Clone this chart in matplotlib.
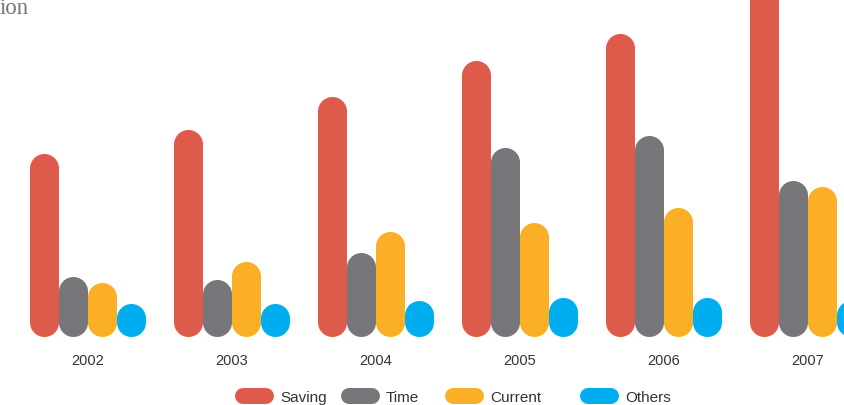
import numpy as np
import matplotlib.pyplot as plt
from matplotlib.lines import Line2D
from matplotlib.patches import Polygon

# data
years   = ["2002", "2003", "2004", "2005", "2006", "2007"]
series  = ["Saving", "Time", "Current", "Others"]
saving  = [61, 69, 80, 92, 101, 122]
time_   = [20, 19, 28, 63, 67, 52]
current = [18, 25, 35, 38, 43, 50]
others  = [11, 11, 12, 13, 13, 12]
colors  = ["#DE5A4B", "#77777B", "#FBAF26", "#00AEEF"]

W, H, DPI = 845, 406, 100
fig = plt.figure(figsize=(W / DPI, H / DPI), dpi=DPI)
ax = fig.add_axes([0, 0, 1, 1])
ax.set_axis_off()

px_x = 144.0   # pixels per group
px_y = 3.0     # pixels per value unit
x0_px, base_px = 88, 338
ax.set_xlim(-x0_px / px_x, (W - x0_px) / px_x)
ax.set_ylim(-(H - base_px) / px_y, base_px / px_y)

bw = 29 / px_x             # bar width (x units)
rx = bw / 2                # cap radius in x units
ry = 14.5 / px_y           # same radius in y units


def pill(xc, v):
    t = np.linspace(0, np.pi, 40)
    top = np.column_stack([xc + rx * np.cos(t), v - ry + ry * np.sin(t)])
    bot = np.column_stack([xc - rx * np.cos(t), ry - ry * np.sin(t)])
    return np.vstack([top, bot])


offsets = [-1.5, -0.5, 0.5, 1.5]
for vals, c, off in zip([saving, time_, current, others], colors, offsets):
    for i, v in enumerate(vals):
        ax.add_patch(Polygon(pill(i + off * bw, v), closed=True, fc=c, lw=0,
                             clip_on=False))

for i, y in enumerate(years):
    ax.text(i, -23 / px_y, y, ha="center", va="center", fontsize=10.5,
            color="#333333", family="Liberation Sans")

# legend (pill markers)
leg_x = [235, 341, 445, 580]
for lx, c, name in zip(leg_x, colors, series):
    fig.add_artist(Line2D([(lx + 8) / W, (lx + 31) / W], [1 - 397 / H] * 2,
                          color=c, lw=16 * 72 / DPI, solid_capstyle="round"))
    fig.text((lx + 45) / W, 1 - 398 / H, name, ha="left", va="center",
             fontsize=11, color="#333333", family="Liberation Sans")

fig.text(0, 1 - 9 / H, "ion", ha="left", va="center", fontsize=16.5,
         color="#777777", family="Liberation Serif")

fig.savefig("out.png", dpi=DPI)
